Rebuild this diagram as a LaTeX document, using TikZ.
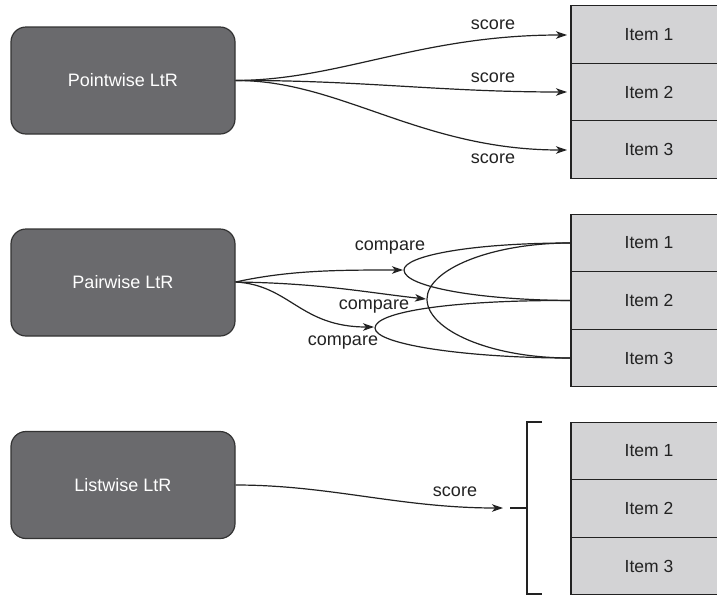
\documentclass[tikz,border=0pt]{standalone}
\usepackage{fontspec}
\setmainfont{Liberation Sans}
\usetikzlibrary{arrows.meta}
\definecolor{boxfill}{HTML}{6A6A6D}
\definecolor{boxline}{HTML}{333333}
\definecolor{itemfill}{HTML}{D3D3D5}
\definecolor{inkc}{HTML}{222222}
\tikzset{
  ltrbox/.style={draw=boxline, line width=1.2pt, fill=boxfill, rounded corners=15pt,
    minimum width=224pt, minimum height=107pt, inner sep=0pt, text=white,
    font=\fontsize{18}{21}\selectfont},
  itembox/.style={draw=inkc, line width=1.2pt, fill=itemfill, minimum width=156pt,
    minimum height=57.5pt, inner sep=0pt, text=inkc, font=\fontsize{17.5}{20}\selectfont},
  conn/.style={draw=inkc, line width=1.2pt},
  arr/.style={conn, -{Stealth[length=11pt,width=7.5pt,inset=3pt]}},
  lbl/.style={text=inkc, font=\fontsize{18}{21}\selectfont, inner sep=0pt}
}
\begin{document}
\begin{tikzpicture}[x=1pt,y=-1pt]
\path[use as bounding box, fill=white] (0,0) rectangle (717,595);

% boxes
\node[ltrbox] (pw) at (123,80.5) {Pointwise LtR};
\node[ltrbox] (pa) at (123,282.5) {Pairwise LtR};
\node[ltrbox] (lw) at (123,485) {Listwise LtR};

% item columns
\node[itembox] (a1) at (649,34.5) {Item 1};
\node[itembox] (a2) at (649,92) {Item 2};
\node[itembox] (a3) at (649,149.5) {Item 3};

\node[itembox] (b1) at (649,243) {Item 1};
\node[itembox] (b2) at (649,300.5) {Item 2};
\node[itembox] (b3) at (649,358) {Item 3};

\node[itembox] (c1) at (649,451) {Item 1};
\node[itembox] (c2) at (649,508.5) {Item 2};
\node[itembox] (c3) at (649,566) {Item 3};

% pointwise arrows
\coordinate (pwo) at (pw.east);
\coordinate (t1) at (567,35);
\coordinate (t2) at (567,92);
\coordinate (t3) at (567,150);
\draw[arr] (pwo) .. controls (340,80) and (420,35) .. (t1);
\draw[arr] (pwo) .. controls (360,80) and (440,92) .. (t2);
\draw[arr] (pwo) .. controls (340,80) and (420,150) .. (t3);
\node[lbl] (s1) at (493,25) {score};
\node[lbl] (s2) at (493,78) {score};
\node[lbl] (s3) at (493,159) {score};

% pairwise arrows
\coordinate (pao) at ([yshift=0.5pt]pa.east);
\coordinate (u1) at (403,270);
\coordinate (u2) at (426,299);
\coordinate (u3) at (374,327);
\draw[arr] (pao) .. controls (290,270) and (340,270) .. (u1);
\draw[arr] (pao) .. controls (320,283) and (370,293) .. (u2);
\draw[arr] (pao) .. controls (290,285) and (300,327) .. (u3);
\node[lbl] (c1l) at (390,248) {compare};
\node[lbl] (c2l) at (374,307) {compare};
\node[lbl] (c3l) at (343,343) {compare};

% comparison loops
\coordinate (e1) at (b1.west);
\coordinate (e2) at (b2.west);
\coordinate (e3) at (b3.west);
\coordinate (k1) at (404,270);
\coordinate (k2) at (427,299);
\coordinate (k3) at (375,328);
\draw[conn] (e1) .. controls (470,243) and (404,256) .. (k1)
                 .. controls (404,287) and (480,300) .. (e2);
\draw[conn] (e1) .. controls (490,243) and (427,270) .. (k2)
                 .. controls (427,330) and (490,358) .. (e3);
\draw[conn] (e2) .. controls (450,300) and (375,312) .. (k3)
                 .. controls (375,345) and (470,358) .. (e3);

% listwise arrow and bracket
\coordinate (lwo) at (lw.east);
\coordinate (v1) at (503,508);
\draw[arr] (lwo) .. controls (330,485) and (400,508) .. (v1);
\node[lbl] (s4) at (455,492) {score};
\coordinate (br1) at (542,422);
\coordinate (br2) at (527,422);
\coordinate (br3) at (527,594);
\coordinate (br4) at (542,594);
\coordinate (bm) at (527,508);
\coordinate (bt) at (510,508);
\draw[conn] (br1) -- (br2) -- (br3) -- (br4);
\draw[conn] (bm) -- (bt);
\end{tikzpicture}
\end{document}
